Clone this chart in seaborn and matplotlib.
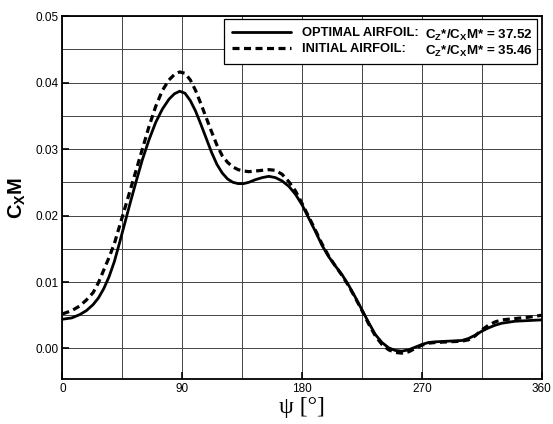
import numpy as np
import pandas as pd
import matplotlib
matplotlib.use("Agg")
import matplotlib.pyplot as plt
from matplotlib.lines import Line2D
import seaborn as sns

# azimuth angle psi [deg] and C_x*M
psi_opt = [0, 7, 13, 18, 23, 27, 31, 35, 39, 43, 47, 51, 55, 60, 65, 70, 75, 80, 84, 88,
           92, 96, 100, 104, 108, 112, 116, 120, 124, 128, 132, 136, 140, 145, 150, 155,
           160, 165, 170, 175, 180, 185, 190, 195, 200, 205, 210, 215, 220, 225, 230, 235,
           240, 245, 250, 255, 260, 265, 270, 275, 280, 290, 300, 305, 310, 315, 320, 325,
           330, 340, 350, 360]
cxm_opt = [0.0044, 0.0046, 0.0051, 0.0057, 0.0066, 0.0076, 0.0090, 0.0108, 0.0131, 0.0160,
           0.0190, 0.0220, 0.0249, 0.0284, 0.0314, 0.0340, 0.0360, 0.0375, 0.0383, 0.0387,
           0.0384, 0.0373, 0.0357, 0.0337, 0.0316, 0.0295, 0.0277, 0.0264, 0.0255, 0.0250,
           0.0248, 0.0248, 0.0250, 0.0254, 0.0257, 0.0259, 0.0257, 0.0252, 0.0244, 0.0232,
           0.0216, 0.0196, 0.0176, 0.0155, 0.0138, 0.0124, 0.0111, 0.0095, 0.0077, 0.0058,
           0.0039, 0.0021, 0.0009, 0.0001, -0.0003, -0.0004, -0.0002, 0.0002, 0.0006, 0.0009,
           0.0010, 0.0011, 0.0012, 0.0015, 0.0020, 0.0026, 0.0031, 0.0035, 0.0038, 0.0041,
           0.0042, 0.0043]

psi_init = psi_opt
cxm_init = [0.0052, 0.0057, 0.0064, 0.0073, 0.0084, 0.0099, 0.0118, 0.0137, 0.0158, 0.0185,
            0.0212, 0.0239, 0.0266, 0.0300, 0.0334, 0.0364, 0.0388, 0.0404, 0.0412, 0.0416,
            0.0414, 0.0404, 0.0388, 0.0368, 0.0347, 0.0326, 0.0306, 0.0290, 0.0280, 0.0273,
            0.0269, 0.0267, 0.0266, 0.0267, 0.0268, 0.0269, 0.0268, 0.0262, 0.0251, 0.0237,
            0.0218, 0.0198, 0.0178, 0.0157, 0.0139, 0.0124, 0.0110, 0.0094, 0.0076, 0.0057,
            0.0037, 0.0019, 0.0006, -0.0002, -0.0006, -0.0007, -0.0005, 0.0000, 0.0005, 0.0008,
            0.0009, 0.0010, 0.0011, 0.0013, 0.0019, 0.0028, 0.0035, 0.0040, 0.0043, 0.0045,
            0.0047, 0.0050]

labels = ["OPTIMAL AIRFOIL:", "INITIAL AIRFOIL:"]
ratios = ["37.52", "35.46"]

sns.set_style("ticks")
plt.rcParams["font.family"] = ["Liberation Sans", "DejaVu Sans"]
plt.rcParams["mathtext.fontset"] = "custom"
plt.rcParams["mathtext.rm"] = "Liberation Sans:bold"
plt.rcParams["mathtext.bf"] = "Liberation Sans:bold"
for k in ["text.color", "axes.labelcolor", "xtick.color", "ytick.color", "axes.edgecolor"]:
    plt.rcParams[k] = "black"

fig = plt.figure(figsize=(5.53, 4.24), dpi=100)
ax = fig.add_axes([0.113, 0.106, 0.8666, 0.856])

df_opt = pd.DataFrame({"psi": psi_opt, "cxm": cxm_opt})
df_init = pd.DataFrame({"psi": psi_init, "cxm": cxm_init})

sns.lineplot(data=df_opt, x="psi", y="cxm", ax=ax, color="black", linewidth=2.0,
             estimator=None, sort=False)
sns.lineplot(data=df_init, x="psi", y="cxm", ax=ax, color="black", linewidth=2.3,
             estimator=None, sort=False)
ax.lines[1].set_dashes([2.2, 1.4])

ax.set_xlim(0, 360)
ax.set_ylim(-0.0046, 0.05)
ax.set_xticks([0, 90, 180, 270, 360])
ax.set_xticks(np.arange(0, 361, 45), minor=True)
ax.set_yticks([0.00, 0.01, 0.02, 0.03, 0.04, 0.05])
ax.set_yticks(np.arange(0, 0.0501, 0.005), minor=True)
ax.set_yticklabels(["0.00", "0.01", "0.02", "0.03", "0.04", "0.05"])
ax.tick_params(which="major", direction="in", length=5, width=1.2, labelsize=8.5, pad=3)
ax.tick_params(which="minor", length=0)
ax.grid(which="both", color="#444444", linewidth=0.7)
for s in ax.spines.values():
    s.set_linewidth(1.3)

ax.set_xlabel("ψ [°]", family="Liberation Serif", fontsize=17, labelpad=1)
ax.set_ylabel(r"C$_\mathrm{X}$M", fontsize=14.5, fontweight="bold", labelpad=5)

handles = [Line2D([], [], color="black", linewidth=2.0),
           Line2D([], [], color="black", linewidth=2.3, dashes=[2.2, 1.4])]
leg = ax.legend(handles, labels, loc="upper left", bbox_to_anchor=(0.336, 0.869, 0.654, 0.123),
                mode="expand", frameon=True, fancybox=False, handlelength=4.6,
                handletextpad=0.8, borderpad=0.65, borderaxespad=0, labelspacing=0.3,
                prop={"weight": "bold", "size": 9.3})
leg.get_frame().set_edgecolor("black")
leg.get_frame().set_linewidth(0.9)
leg.get_frame().set_alpha(1)

for i, r in enumerate(ratios):
    ax.text(0.757, 0.948 - i * 0.046, r"C$_\mathrm{Z}$*/C$_\mathrm{X}$M* = " + r,
            transform=ax.transAxes, fontsize=9.6, fontweight="bold", va="center", zorder=10)

fig.savefig("out.png", dpi=100)
